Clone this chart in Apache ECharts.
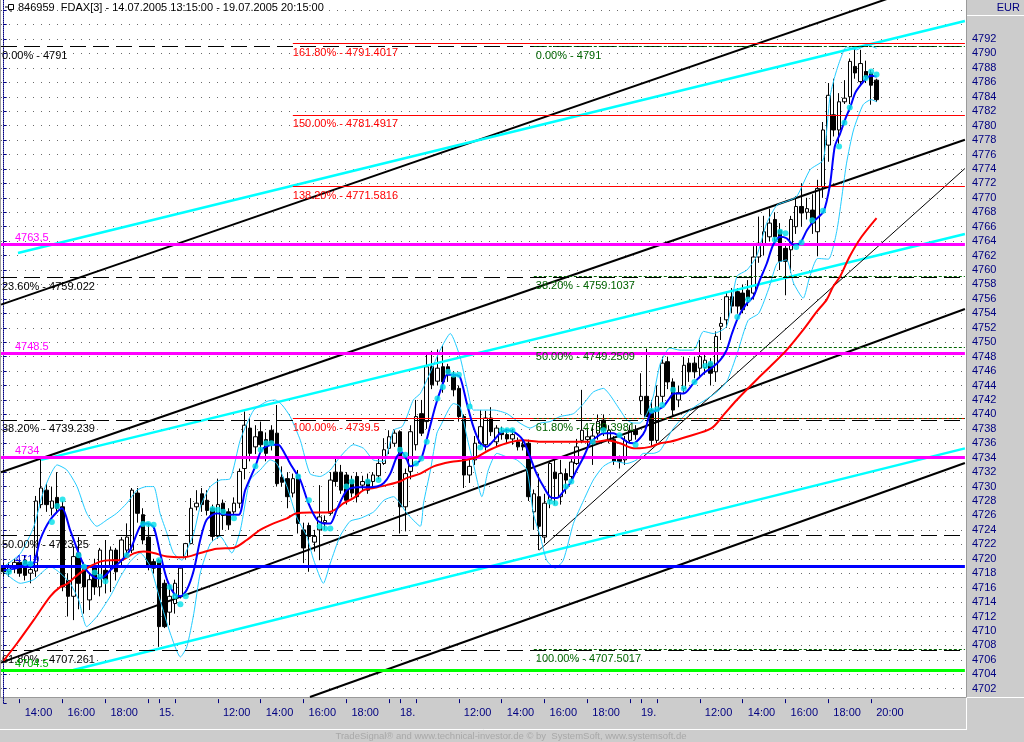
<!DOCTYPE html>
<html><head><meta charset="utf-8">
<script src="https://cdn.jsdelivr.net/npm/echarts/dist/echarts.min.js"></script>
<style>html,body{margin:0;padding:0;background:#fff}#c{width:1024px;height:742px}</style>
</head><body><div id="c"></div>
<script>
// ---- time slots (15-minute bars) ----
const sessionDays = ['14.07.', '15.07.', '18.07.', '19.07.'];
const sessionStarts = ['13:15', '09:15', '09:15', '09:15'];
const sessionEnd = '20:15';
const emptySlots = 16;

// ---- OHLC values ----
const opens = [4718.8,4718.2,4719.0,4719.5,4719.8,4718.0,4718.3,4727.5,4729.5,4727.0,4728.5,4727.2,4717.0,4714.8,4720.8,4718.9,4714.3,4718.9,4716.1,4718.4,4718.9,4721.2,4719.8,4721.2,4721.2,4729.1,4726.1,4723.0,4719.6,
4719.8,4716.6,4712.6,4713.8,4714.8,4720.3,4722.1,4727.2,4729.0,4728.1,4727.0,4723.1,4727.7,4726.5,4726.5,4727.7,4732.5,4738.1,4735.5,4737.6,4736.5,4737.8,4737.4,4731.3,4731.1,4729.1,4731.6,4724.0,4724.6,4722.3,4724.0,4725.0,4726.3,4732.0,4732.0,4731.6,4730.9,4731.4,4730.2,4730.9,4730.7,4731.5,4733.2,4735.3,4736.0,
4737.6,4727.2,4732.1,4735.8,4740.1,4739.0,4746.6,4744.6,4746.6,4746.6,4745.2,4743.6,4739.7,4731.6,4733.7,4736.0,4735.8,4739.5,4736.2,4737.5,4737.2,4736.6,4736.2,4735.8,4736.0,4726.5,4728.6,4723.0,4728.1,4732.0,4728.6,4731.8,4731.4,4733.2,4736.4,4736.5,4736.0,4737.4,4739.2,4736.5,4736.5,4733.8,4733.7,4736.4,4737.8,
4741.9,4742.5,4740.6,4736.4,4742.5,4747.3,4744.5,4742.0,4743.6,4747.1,4747.1,4746.4,4746.5,4747.1,4745.9,4752.2,4753.1,4756.3,4757.0,4756.8,4757.2,4756.8,4761.8,4763.5,4764.6,4767.0,4765.5,4763.0,4762.8,4766.0,4768.8,4768.0,4768.3,4765.3,4771.5,4777.3,4781.5,4779.4,4783.3,4784.0,4788.2,4786.1,4787.5,4787.3,4786.3];
const closes = [4718.2,4719.0,4719.5,4718.0,4717.7,4718.5,4728.0,4729.8,4727.5,4728.0,4727.0,4716.1,4714.8,4720.3,4716.6,4716.1,4717.1,4716.1,4721.2,4717.1,4721.2,4718.2,4722.6,4723.0,4729.5,4726.3,4722.6,4718.9,4718.7,
4710.6,4710.6,4714.8,4716.6,4718.7,4722.1,4727.0,4727.7,4727.5,4726.7,4723.1,4727.5,4726.0,4724.7,4727.7,4732.1,4738.5,4734.6,4736.9,4735.8,4734.6,4736.0,4730.4,4730.6,4728.6,4731.1,4724.9,4721.5,4723.1,4723.1,4725.8,4725.3,4730.9,4730.7,4729.5,4728.1,4729.1,4728.6,4730.7,4729.5,4731.6,4733.2,4735.1,4736.9,4737.4,
4727.2,4731.8,4737.6,4739.7,4737.4,4746.6,4744.1,4746.4,4744.5,4745.7,4743.4,4739.7,4731.6,4732.8,4736.0,4738.3,4739.5,4737.6,4738.1,4737.2,4736.6,4737.2,4735.5,4735.5,4728.6,4729.0,4724.5,4727.7,4733.2,4731.1,4731.8,4730.9,4733.4,4735.5,4737.8,4736.9,4737.0,4739.0,4737.8,4737.8,4733.5,4733.5,4736.4,4737.8,4737.2,
4742.5,4739.7,4736.4,4742.5,4747.1,4744.5,4740.6,4743.0,4746.8,4745.9,4745.9,4748.0,4747.5,4745.7,4750.8,4752.6,4756.3,4755.0,4755.0,4754.5,4756.1,4761.8,4763.7,4765.3,4766.5,4764.6,4761.2,4761.2,4767.0,4768.8,4767.9,4768.5,4766.5,4771.3,4779.4,4784.2,4779.4,4783.3,4783.8,4788.9,4787.3,4788.6,4786.8,4785.6,4783.6];
const lows = [4717.6,4717.5,4718.0,4717.5,4717.0,4716.6,4717.5,4727.0,4726.5,4726.0,4726.3,4715.5,4712.0,4711.5,4713.0,4712.4,4712.9,4715.0,4714.8,4715.2,4715.4,4717.0,4719.0,4720.7,4720.8,4725.0,4722.0,4718.4,4718.0,
4707.8,4710.4,4710.8,4712.4,4714.5,4720.0,4722.0,4726.7,4726.5,4726.0,4722.5,4722.8,4724.0,4724.0,4726.0,4727.0,4731.0,4733.5,4734.5,4735.0,4733.5,4735.0,4730.0,4730.0,4727.0,4728.5,4723.5,4719.4,4718.2,4721.0,4719.8,4724.0,4726.0,4730.0,4729.0,4727.5,4728.5,4727.8,4729.5,4729.0,4730.0,4731.0,4733.0,4734.5,4735.5,
4723.5,4723.8,4731.0,4735.0,4737.0,4738.0,4743.5,4744.0,4743.0,4744.5,4742.5,4739.0,4729.8,4730.5,4733.0,4735.5,4735.0,4737.0,4735.5,4736.5,4736.0,4735.8,4735.0,4735.0,4728.0,4724.0,4721.2,4722.2,4727.0,4727.5,4727.5,4729.0,4730.5,4733.0,4736.0,4735.5,4733.0,4736.5,4737.0,4736.0,4733.0,4732.5,4733.0,4736.0,4736.5,
4740.0,4739.7,4735.5,4736.0,4741.5,4743.5,4739.8,4741.0,4743.0,4744.5,4745.0,4745.0,4745.5,4744.0,4744.5,4750.3,4752.0,4754.0,4754.0,4754.0,4755.0,4756.0,4761.0,4762.0,4764.0,4764.0,4760.0,4756.5,4759.6,4765.0,4766.0,4767.0,4765.0,4761.9,4770.0,4775.0,4778.5,4777.5,4783.0,4783.0,4786.5,4785.5,4785.9,4782.9,4783.3];
const highs = [4719.4,4719.5,4720.0,4720.0,4720.5,4720.0,4728.7,4733.7,4730.5,4730.0,4732.0,4728.0,4718.0,4721.7,4723.0,4719.5,4718.0,4720.0,4721.5,4722.6,4721.7,4721.5,4723.0,4724.9,4729.8,4729.8,4727.0,4725.0,4720.0,
4720.0,4717.1,4715.9,4717.1,4719.0,4722.2,4728.4,4729.5,4729.8,4729.5,4727.5,4731.1,4728.2,4727.0,4728.5,4732.5,4740.4,4739.5,4738.5,4739.0,4737.5,4738.5,4741.3,4732.8,4732.0,4731.8,4732.3,4725.0,4725.0,4724.0,4730.2,4726.0,4732.0,4733.9,4733.0,4732.0,4731.5,4732.0,4731.5,4731.8,4732.0,4734.0,4736.7,4737.8,4737.8,
4737.8,4732.5,4738.5,4742.0,4742.0,4748.5,4748.8,4749.0,4749.5,4747.0,4746.0,4744.0,4740.0,4734.0,4737.0,4740.6,4740.5,4741.0,4738.5,4738.3,4738.0,4738.0,4736.8,4736.3,4736.5,4729.6,4731.8,4729.0,4733.5,4733.9,4733.7,4732.5,4734.0,4736.6,4743.4,4738.0,4738.5,4740.0,4740.0,4738.5,4737.0,4734.3,4737.0,4738.5,4738.5,
4745.7,4749.1,4742.0,4744.0,4748.0,4748.0,4745.0,4744.0,4748.0,4747.8,4748.0,4750.3,4748.5,4747.8,4751.5,4753.5,4757.0,4757.5,4757.5,4758.0,4758.6,4763.3,4767.4,4767.5,4768.5,4768.0,4766.5,4763.5,4767.5,4770.2,4772.0,4770.0,4770.5,4772.5,4780.5,4785.9,4786.5,4784.5,4786.3,4789.3,4791.0,4790.5,4789.0,4787.7,4786.5];

// ---- indicator lines: [bar index, price] ----
const blueMA = [[0,4718.4],[2.5,4718.7],[3.7,4719.1],[5.6,4719.4],[6.8,4722.6],[8.7,4725.4],[10.9,4727.0],[12.4,4724.0],[14,4720.8],[15.5,4718.4],[17.4,4717.3],[18.7,4717.5],[19.9,4718.4],[21.8,4719.6],[23.6,4721.2],[25.5,4724.5],[26.7,4724.9],[28,4724.4],[29.2,4720.8],[30.5,4717.1],[32,4715.0],[33,4714.8],[34.2,4715.7],[35.5,4718.4],[36.7,4722.6],[37.9,4725.4],[39.8,4726.3],[42,4726.1],[43.9,4726.1],[45.1,4729.5],[47,4732.8],[48.2,4735.1],[50.1,4735.8],[51.3,4735.8],[52.6,4734.4],[53.8,4732.8],[55.4,4730.9],[56.9,4727.7],[58.5,4725.4],[59.7,4724.9],[61,4724.9],[62.2,4726.8],[64.1,4729.5],[66,4729.9],[67.8,4729.9],[69.7,4730.0],[71,4730.5],[72.2,4731.8],[73.4,4734.1],[74.3,4734.8],[75.3,4733.7],[75.9,4732.8],[77.2,4733.2],[78.1,4734.1],[79.3,4737.4],[80.6,4741.1],[81.8,4743.8],[82.8,4745.5],[84,4745.5],[85.2,4745.2],[86.5,4741.5],[87.7,4738.3],[89,4736.0],[90.2,4735.5],[91.5,4736.4],[92.7,4737.4],[93.9,4737.8],[95.2,4737.6],[97,4736.4],[98.3,4734.1],[99.5,4731.8],[100.8,4730.0],[102,4728.6],[103.3,4728.4],[104.5,4729.3],[105.8,4730.5],[107,4732.3],[108.3,4734.1],[109.5,4736.0],[110.8,4736.9],[112,4737.4],[113.9,4737.4],[115.1,4736.9],[116.4,4736.2],[117.6,4736.0],[118.8,4736.7],[119.8,4737.8],[120.7,4740.1],[122,4740.6],[123.2,4741.1],[124.4,4742.3],[125.1,4742.9],[127,4742.9],[128.8,4744.3],[130.7,4745.7],[132.5,4746.6],[133.8,4747.5],[135,4748.9],[136,4751.2],[137.2,4753.5],[138.8,4755.4],[140,4756.3],[141.2,4758.6],[142.5,4760.9],[143.7,4763.5],[145,4764.6],[146.2,4764.4],[147.5,4763.5],[148.7,4763.7],[150,4765.5],[151.2,4766.7],[153.1,4768.1],[154.3,4771.8],[155.2,4777.1],[156.2,4778.9],[157.1,4780.8],[158.1,4782.6],[159,4784.5],[160,4785.6],[161.2,4786.6],[162.1,4786.9],[163,4786.8]];
const redMA = [[0,4705.9],[2.5,4708.3],[5.6,4711.5],[8.7,4714.8],[10.6,4716.1],[11.8,4716.5],[14.9,4718.4],[18,4719.6],[19.9,4719.8],[21.8,4719.8],[24.3,4720.75],[26.1,4721.0],[28,4720.8],[30.5,4720.3],[33.6,4720.2],[36.7,4720.8],[39.8,4721.4],[42.9,4721.5],[45.4,4722.6],[47.9,4724.0],[50.4,4724.9],[52.9,4725.6],[54.7,4726.3],[57.2,4726.4],[60.4,4726.4],[61.9,4726.8],[63.5,4727.7],[65.3,4728.4],[67.2,4729.5],[69.1,4729.8],[71.5,4730.2],[74,4730.7],[75.3,4731.2],[77.8,4731.8],[80.3,4732.8],[83.4,4733.4],[86.5,4733.7],[88.4,4734.1],[90.8,4735.1],[93.9,4736.0],[97,4736.4],[100.2,4736.2],[103.3,4736.2],[106.4,4736.2],[110.8,4736.2],[112.6,4736.4],[115.1,4736.0],[117.6,4735.3],[118.8,4735.3],[120.7,4735.5],[122.6,4736.0],[124.4,4736.2],[127.6,4736.9],[132.2,4738.1],[134.4,4739.9],[136.9,4742.0],[140.6,4744.8],[143.1,4746.6],[146.2,4748.9],[149.3,4751.7],[151.8,4754.2],[153.7,4755.9],[154.9,4757.7],[156.2,4759.1],[158,4761.9],[160.2,4764.6],[163,4767.2]];
const bandUpper = [[0,4718.9],[3.1,4720.7],[5.6,4724.4],[7.5,4729.5],[10,4733.0],[11.8,4732.3],[13.7,4730.0],[15.5,4726.3],[17.4,4724.5],[19.3,4725.4],[21.1,4726.3],[23,4727.7],[24.9,4729.5],[26.7,4730.0],[28,4730.0],[29.2,4726.3],[30.5,4723.5],[31.7,4720.8],[33.3,4719.8],[34.2,4721.2],[35.5,4723.5],[36.7,4727.2],[38.6,4730.0],[40.4,4730.9],[42.3,4731.1],[44.2,4736.5],[46.7,4740.6],[49.2,4741.8],[50.7,4742.0],[52,4741.3],[53.5,4739.7],[55.4,4736.4],[57.2,4731.8],[59.1,4731.4],[61,4732.3],[62.8,4734.1],[65.3,4735.8],[67.2,4735.3],[69,4733.7],[71,4733.5],[72.8,4737.8],[74.4,4738.3],[75.3,4739.7],[76.5,4742.0],[77.8,4742.9],[79.6,4745.7],[81.5,4748.9],[83.4,4751.2],[85.2,4748.0],[86.5,4743.8],[87.7,4740.6],[89.6,4740.6],[91.5,4740.6],[94,4740.1],[96.4,4738.8],[98.3,4738.1],[100.2,4738.8],[102,4739.0],[103.9,4739.7],[106.4,4740.1],[108.3,4741.5],[110.1,4743.1],[112,4743.6],[113.2,4742.7],[115.1,4740.6],[116.4,4739.2],[117.6,4738.8],[118.8,4738.8],[120.1,4740.1],[121.3,4742.5],[122.6,4747.0],[124.4,4749.2],[126.3,4748.9],[128.8,4748.9],[130.7,4751.5],[132.5,4751.2],[135,4752.2],[136.9,4759.1],[138.8,4760.0],[140.6,4761.9],[142.5,4766.5],[144.4,4769.0],[146.2,4769.5],[148.1,4770.2],[150.6,4773.9],[153,4775.2],[153.7,4779.4],[154.3,4784.0],[155.2,4786.8],[156.2,4789.1],[157.4,4790.9],[159.3,4790.5],[161.2,4791.2],[163,4790.7]];
const bandLower = [[0,4718.2],[3.1,4716.6],[5.6,4717.1],[8.7,4718.9],[10.6,4718.0],[12.4,4716.6],[14,4714.3],[15.5,4710.6],[17.4,4712.0],[19.9,4714.8],[21.8,4717.5],[23.6,4719.6],[25.5,4720.8],[27.4,4718.9],[29.2,4714.3],[31.1,4709.7],[33,4706.4],[34.2,4707.8],[35.5,4712.4],[36.7,4718.0],[38.6,4722.1],[40.4,4723.1],[42.6,4720.8],[44.2,4724.0],[46,4730.9],[47.9,4732.3],[49.8,4733.7],[51,4733.2],[52.9,4730.0],[54.7,4725.8],[56.6,4723.1],[57.9,4719.8],[59.7,4716.6],[61,4719.4],[62.8,4723.1],[64.7,4725.2],[66.6,4725.6],[69.1,4726.5],[71,4728.1],[72.8,4728.6],[74,4727.7],[75.3,4726.3],[77.8,4724.5],[78.4,4727.7],[79.7,4732.3],[80.9,4737.4],[81.5,4738.3],[84,4741.5],[85.2,4741.1],[86.5,4736.9],[87.7,4733.2],[89.3,4728.6],[90.5,4732.3],[92.1,4734.6],[94,4734.1],[95.8,4733.7],[97.7,4732.3],[98.9,4726.3],[100.2,4723.1],[101.4,4719.8],[103,4718.7],[104.5,4719.8],[106.4,4724.9],[108.3,4728.1],[110.1,4730.9],[112,4732.8],[113.9,4733.5],[116.4,4733.2],[118.2,4733.7],[119.5,4734.6],[121.3,4734.6],[122.6,4735.0],[125,4738.0],[128,4740.5],[131,4742.0],[133,4743.0],[135,4744.5],[137,4748.5],[139,4753.0],[141,4754.0],[143,4757.7],[144.4,4760.9],[146.2,4761.4],[147.5,4758.2],[149.3,4756.1],[150.5,4759.0],[152,4761.6],[154,4761.5],[155.6,4765.5],[157.4,4774.8],[158.7,4779.4],[160.5,4782.9],[162,4783.6],[163,4783.3]];
const blueDots = [[1,4718.2],[4,4719.4],[5,4719.3],[9,4725.1],[10,4727.3],[11,4728.2],[14,4720.5],[15,4718.9],[17,4718.1],[18,4717.5],[19,4716.9],[23,4720.5],[26,4724.8],[27,4724.8],[28,4724.7],[29,4719.8],[31,4716.1],[32,4714.8],[33,4713.7],[34,4714.8],[39,4726.9],[40,4726.8],[41,4726.5],[43,4725.6],[47,4732.8],[48,4735.1],[49,4736.0],[50,4736.0],[55,4731.4],[57,4728.1],[59,4724.5],[60,4724.2],[61,4724.2],[64,4730.0],[65,4730.7],[68,4730.7],[70,4730.9],[74,4735.1],[75,4734.4],[77,4733.2],[78,4733.9],[79,4736.2],[81,4742.2],[82,4743.8],[83,4745.9],[84,4745.5],[85,4745.5],[87,4741.1],[89,4735.4],[93,4737.8],[94,4737.8],[95,4737.8],[102,4727.9],[103,4727.7],[105,4730.0],[106,4730.7],[110,4736.2],[112,4737.8],[115,4737.1],[118,4735.8],[121,4740.5],[122,4740.7],[123,4741.3],[125,4743.4],[127,4743.6],[129,4744.5],[131,4746.7],[132,4747.0],[137,4753.5],[139,4755.9],[144,4764.2],[145,4765.3],[146,4765.1],[148,4763.2],[149,4763.8],[151,4766.9],[153,4768.2],[156,4777.1],[157,4780.4],[158,4782.5],[161,4786.6],[162,4787.5],[163,4787.1]];

// ---- trend lines: [[startIndex, price], [endIndex, price]] ----
const blackChannels = [
  [[-0.5,4755.20],[179.5,4801.27]],
  [[-0.5,4731.98],[179.5,4778.05]],
  [[-0.5,4705.62],[179.5,4754.60]],
  [[57.2,4700.85],[179.5,4733.27]]
];
const cyanChannels = [
  [[2.67,4762.36],[179.5,4794.5]],
  [[7,4733.7],[179.5,4764.99]],
  [[13,4704.59],[179.5,4735.29]]
];
const thinTrend = [[100,4721.2],[179.5,4774.06]];

// ---- horizontal levels ----
const fibLeftValues = [4791, 4759.022, 4739.239, 4723.25, 4707.261];
const fibLeftLabels = ['0.00% - 4791', '23.60% - 4759.022', '38.20% - 4739.239', '50.00% - 4723.25', '61.80% - 4707.261'];
const fibRedValues = [4791.4017, 4781.4917, 4771.5816, 4739.5];
const fibRedLabels = ['161.80% - 4791.4017', '150.00% - 4781.4917', '138.20% - 4771.5816', '100.00% - 4739.5'];
const fibRedStart = 54;
const fibGreenValues = [4791, 4759.1037, 4749.2509, 4739.3981, 4707.5017];
const fibGreenLabels = ['0.00% - 4791', '38.20% - 4759.1037', '50.00% - 4749.2509', '61.80% - 4739.3981', '100.00% - 4707.5017'];
const fibGreenStart = 99;
const levelValues = [4763.5, 4748.5, 4734, 4719, 4704.5];
const levelLabels = ['4763.5', '4748.5', '4734', '4719', '4704.5'];
const levelColors = ['#ff00ff', '#ff00ff', '#ff00ff', '#0000ff', '#00ff00'];
const levelTextColors = ['#ff00ff', '#ff00ff', '#ff00ff', '#0000ff', '#00b000'];

// ---- x axis ticks / labels ----
const tickIndices = [3,11,19,27,29,32,40,48,56,64,72,74,77,85,93,101,109,117,119,122,130,138,146,154,162];
const labelIndices = [3,11,19,29,40,48,56,64,74,85,93,101,109,119,130,138,146,154,162];
const labelTexts = ['14:00','16:00','18:00','15.','12:00','14:00','16:00','18:00','18.','12:00','14:00','16:00','18:00','19.','12:00','14:00','16:00','18:00','20:00'];

// ---- build categories ----
function toMin(s){const p=s.split(':');return (+p[0])*60+(+p[1]);}
function toHM(m){const h=Math.floor(m/60), mm=m%60;return (h<10?'0':'')+h+':'+(mm<10?'0':'')+mm;}
const categories = [];
sessionDays.forEach((d,k)=>{for(let m=toMin(sessionStarts[k]); m<=toMin(sessionEnd); m+=15) categories.push(d+' '+toHM(m));});
for(let k=0;k<emptySlots;k++) categories.push('');
const N = categories.length;

const tickSet = new Set(tickIndices);
const labelMap = {}; labelIndices.forEach((ix,k)=>labelMap[ix]=labelTexts[k]);

const FONT = "'Liberation Sans', Arial, sans-serif";
const candleData = opens.map((o,i)=>[o, closes[i], lows[i], highs[i]]);

const markLines = [];
fibLeftValues.forEach((v,k)=>markLines.push({yAxis:v,
  lineStyle:{color:'#000000',width:1,type:[16,7]},
  label:{show:true,formatter:fibLeftLabels[k],position:'insideStartBottom',distance:[1,4],color:'#000000',fontSize:11,fontFamily:FONT}}));
fibRedValues.forEach((v,k)=>markLines.push([{coord:[fibRedStart,v],
  lineStyle:{color:'#ff0000',width:1,type:'solid'},
  label:{show:true,formatter:fibRedLabels[k],position:'insideStartBottom',distance:[0,4],color:'#ff0000',fontSize:11,fontFamily:FONT}},{coord:[N-0.5,v]}]));
fibGreenValues.forEach((v,k)=>markLines.push([{coord:[fibGreenStart,v],
  lineStyle:{color:'#006400',width:1,type:[3,2]},
  label:{show:true,formatter:fibGreenLabels[k],position:'insideStartBottom',distance:[2,4],color:'#006400',fontSize:11,fontFamily:FONT}},{coord:[N-0.5,v]}]));
levelValues.forEach((v,k)=>markLines.push({yAxis:v,
  lineStyle:{color:levelColors[k],width:3,type:'solid'},
  label:{show:true,formatter:levelLabels[k],position:'insideStartTop',distance:[14,1],color:levelTextColors[k],fontSize:11,fontFamily:FONT}}));

const series = [
  {type:'candlestick', xAxisIndex:0, yAxisIndex:0, data:candleData, barWidth:4, z:2,
   itemStyle:{color:'#ffffff', color0:'#000000', borderColor:'#000000', borderColor0:'#000000', borderWidth:1}},
];
blackChannels.forEach(seg=>series.push({type:'line', xAxisIndex:1, data:seg, symbol:'none', z:3, silent:true,
  lineStyle:{color:'#000000', width:2}}));
cyanChannels.forEach(seg=>series.push({type:'line', xAxisIndex:1, data:seg, symbol:'none', z:3, silent:true,
  lineStyle:{color:'#00ffff', width:2.5}}));
series.push({type:'line', xAxisIndex:1, data:thinTrend, symbol:'none', z:3, silent:true,
  lineStyle:{color:'#000000', width:1},
  markLine:{silent:true, symbol:['none','none'], animation:false, data:markLines}});
series.push({type:'line', xAxisIndex:1, data:bandUpper, symbol:'none', smooth:0.2, z:4, lineStyle:{color:'#22ccff', width:1}});
series.push({type:'line', xAxisIndex:1, data:bandLower, symbol:'none', smooth:0.2, z:4, lineStyle:{color:'#22ccff', width:1}});
series.push({type:'line', xAxisIndex:1, data:redMA, symbol:'none', smooth:0.3, z:5, lineStyle:{color:'#ff0000', width:2}});
series.push({type:'line', xAxisIndex:1, data:blueMA, symbol:'none', smooth:0.25, z:5, lineStyle:{color:'#0000ff', width:2}});
series.push({type:'scatter', xAxisIndex:1, data:blueDots, symbol:'circle', symbolSize:6, z:6, itemStyle:{color:'#00e0e8'}});

const option = {
  animation:false,
  backgroundColor:'#ffffff',
  grid:{left:1, right:59.1, top:-4.31, bottom:38.86, containLabel:false, outerBoundsMode:'none'},
  xAxis:[
    {type:'category', data:categories, boundaryGap:true,
     axisLine:{show:false},
     axisTick:{show:true, inside:true, length:4, alignWithLabel:true, interval:(i)=>tickSet.has(i), lineStyle:{color:'#000080'}},
     axisLabel:{show:true, interval:(i)=>labelMap[i]!==undefined, align:'left', margin:4,
       formatter:(v,i)=>{const t=labelMap[i]; if(t===undefined) return ''; return t.indexOf(':')>0 ? '{t|'+t+'}' : '{d|'+t+'}';},
       rich:{t:{padding:[0,0,0,5], color:'#000080', fontSize:11, fontFamily:FONT}, d:{padding:[0,0,0,0], color:'#000080', fontSize:11, fontFamily:FONT}}},
     splitLine:{show:false}},
    {type:'value', min:-0.5, max:N-0.5, show:false}
  ],
  yAxis:[{type:'value', position:'right', offset:4, min:4700, max:4798, interval:2, scale:true,
    axisLine:{show:true, lineStyle:{color:'#000080', type:'dotted', width:1}},
    axisTick:{show:true, length:3, lineStyle:{color:'#000080'}},
    axisLabel:{show:true, margin:3, color:'#000080', fontSize:11, fontFamily:FONT,
      formatter:(v)=> (v>=4702 && v<=4792) ? String(v) : ''},
    splitLine:{show:true, showMinLine:false, showMaxLine:false, lineStyle:{color:'#6a6a6a', width:1, type:[1,7]}}}],
  graphic:[
    {type:'rect', z:-1, shape:{x:966, y:0, width:58, height:742}, style:{fill:'#cccccc'}},
    {type:'rect', z:-1, shape:{x:0, y:697, width:1024, height:45}, style:{fill:'#cccccc'}},
    {type:'line', z:-1, shape:{x1:966.5, y1:0, x2:966.5, y2:697}, style:{stroke:'#9a9a9a', lineWidth:1}},
    {type:'line', z:-1, shape:{x1:0, y1:697.5, x2:966, y2:697.5}, style:{stroke:'#9a9a9a', lineWidth:1}},
    {type:'line', z:-1, shape:{x1:967, y1:697.5, x2:1024, y2:697.5}, style:{stroke:'#ffffff', lineWidth:1}},
    {type:'line', z:-1, shape:{x1:0, y1:729.5, x2:967, y2:729.5}, style:{stroke:'#ffffff', lineWidth:1}},
    {type:'line', z:-1, shape:{x1:966.5, y1:698, x2:966.5, y2:729.5}, style:{stroke:'#ffffff', lineWidth:1}},
    {type:'line', z:-1, shape:{x1:967, y1:15.5, x2:1024, y2:15.5}, style:{stroke:'#ffffff', lineWidth:1}},
    {type:'line', z:-1, shape:{x1:0.5, y1:0, x2:0.5, y2:697}, style:{stroke:'#a0a0a0', lineWidth:1}},
    {type:'text', z:10, x:1020, y:8, style:{text:'EUR', fill:'#000080', font:'11px '+FONT, textAlign:'right', textVerticalAlign:'middle'}},
    {type:'rect', z:10, shape:{x:8.5, y:4.5, width:5, height:5}, style:{fill:'none', stroke:'#000000', lineWidth:1}},
    {type:'line', z:10, shape:{x1:5, y1:7, x2:8.5, y2:7}, style:{stroke:'#000000', lineWidth:1}},
    {type:'line', z:10, shape:{x1:11, y1:9.5, x2:11, y2:12}, style:{stroke:'#000000', lineWidth:1}},
    {type:'text', z:10, x:18, y:8, style:{text:'846959  FDAX[3] - 14.07.2005 13:15:00 - 19.07.2005 20:15:00', fill:'#000000', font:'11px '+FONT, textAlign:'left', textVerticalAlign:'middle'}},
    {type:'text', z:10, x:511, y:736, style:{text:'TradeSignal\u00ae and www.technical-investor.de \u00a9 by  SystemSoft, www.systemsoft.de', fill:'#a8a8a8', font:'9.5px '+FONT, textAlign:'center', textVerticalAlign:'middle'}}
  ],
  series:series
};
const chart = echarts.init(document.getElementById('c'));
chart.setOption(option);
</script></body></html>
